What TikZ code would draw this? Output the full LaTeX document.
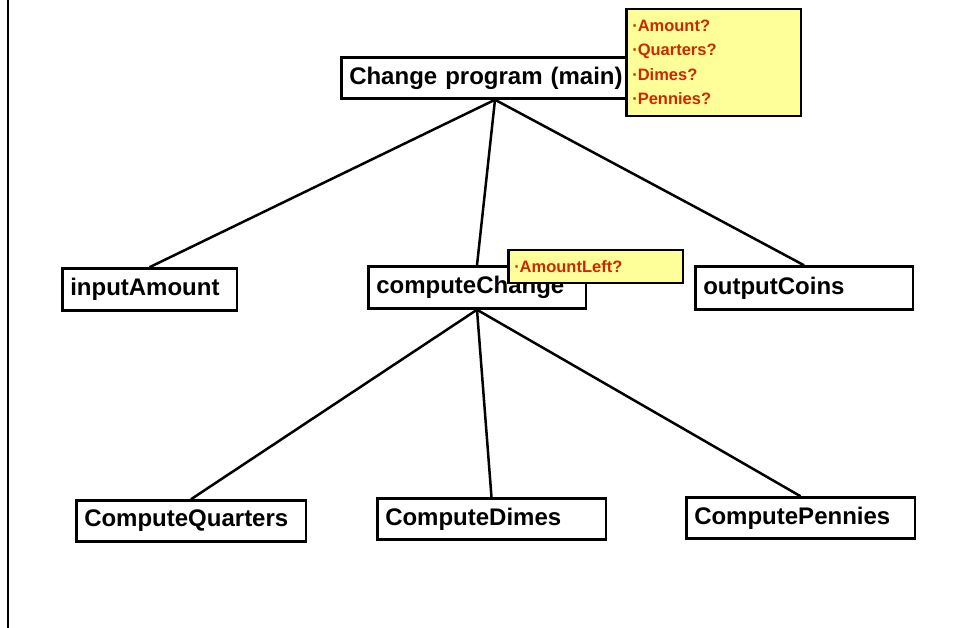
\documentclass[tikz,border=0pt]{standalone}
\usepackage{fontspec}
\setmainfont{Liberation Sans}
\definecolor{notered}{RGB}{204,40,0}
\definecolor{noteyellow}{RGB}{255,255,153}
\pgfdeclarelayer{background}
\pgfdeclarelayer{foreground}
\pgfsetlayers{background,main,foreground}
\begin{document}
\begin{tikzpicture}[x=1pt,y=-1pt,
  box/.style={draw=black, line width=2.5pt, fill=white, inner xsep=8pt, inner ysep=0pt,
    align=left, font=\fontsize{24}{28}\selectfont\bfseries},
  note/.style={draw=black, line width=2.5pt, fill=noteyellow, inner xsep=6pt, inner ysep=0pt,
    align=left, text=notered, font=\fontsize{16.5}{24.5}\selectfont\bfseries},
  link/.style={draw=black, line width=2.5pt}]
\useasboundingbox (0,0) rectangle (959,628);
\begin{pgfonlayer}{background}
\fill[white] (0,0) rectangle (959,628);
\end{pgfonlayer}
\coordinate (ltop) at (8,0);
\coordinate (lbot) at (8,628);
\draw[line width=2.5pt] (ltop) -- (lbot);

\node[box, text width=291.5pt, minimum height=41pt] (main) at (495,78) {Change program (main)};
\node[box, text width=158.5pt, minimum height=42pt] (input) at (149.5,289.5) {inputAmount};
\node[box, text width=201.5pt, minimum height=42pt] (change) at (477,287.5) {computeChange};
\node[box, text width=201.5pt, minimum height=43pt] (output) at (804,288) {outputCoins};
\node[box, text width=213.5pt, minimum height=41pt] (quarters) at (191,521) {ComputeQuarters};
\node[box, text width=212.5pt, minimum height=41pt] (dimes) at (491.5,519) {ComputeDimes};
\node[box, text width=212.5pt, minimum height=41pt] (pennies) at (800.5,518) {ComputePennies};

\begin{pgfonlayer}{background}
\draw[link] (main.south) -- (input.north);
\draw[link] (main.south) -- (change.north);
\draw[link] (main.south) -- (output.north);
\draw[link] (change.south) -- (quarters.north);
\draw[link] (change.south) -- (dimes.north);
\draw[link] (change.south) -- (pennies.north);
\end{pgfonlayer}

\begin{pgfonlayer}{foreground}
\node[note, text width=162.5pt, minimum height=107pt] (note1) at (713.5,62.5)
  {·Amount?\\·Quarters?\\·Dimes?\\·Pennies?};
\node[note, text width=162.5pt, minimum height=33pt] (note2) at (595.5,266.5)
  {·AmountLeft?};
\end{pgfonlayer}
\end{tikzpicture}
\end{document}
